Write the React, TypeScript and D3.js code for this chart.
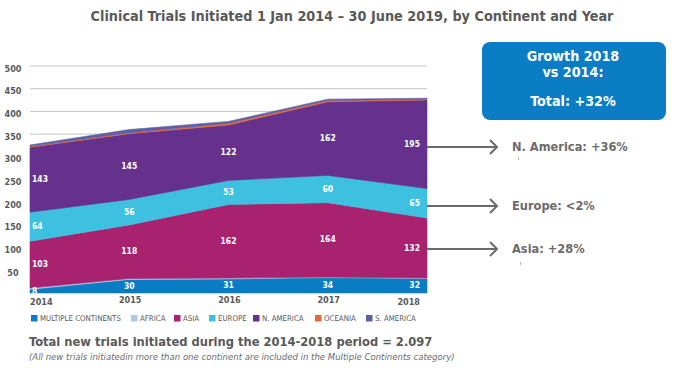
import React from "react";
import * as d3 from "d3";

const years = ["2014", "2015", "2016", "2017", "2018"];
const multipleContinents = [8, 30, 31, 34, 32];
const africa = [3, 2, 2, 1, 1];
const asia = [103, 118, 162, 164, 132];
const europe = [64, 56, 53, 60, 65];
const nAmerica = [143, 145, 122, 162, 195];
const oceania = [2, 2, 4, 3, 2];
const sAmerica = [3, 7, 4, 3, 2];

const seriesNames = ["MULTIPLE CONTINENTS", "AFRICA", "ASIA", "EUROPE", "N. AMERICA", "OCEANIA", "S. AMERICA"];
const seriesColors = ["#0a7cc3", "#b3c6e6", "#a8226f", "#3ec1e1", "#66318c", "#e06a3b", "#5b60a3"];
const labelledSeries = [0, 2, 3, 4];
const yTicks = [50, 100, 150, 200, 250, 300, 350, 400, 450, 500];

const callouts = ["N. America: +36%", "Europe: <2%", "Asia: +28%"];

const FONT = "'DejaVu Sans Condensed', 'DejaVu Sans', Verdana, sans-serif";

export default function App() {
  const W = 680, H = 368;
  const x = d3.scalePoint<string>().domain(years).range([30, 427]);
  const y = d3.scaleLinear().domain([0, 500]).range([293, 66]);

  const rows = years.map((yr, i) => ({
    year: yr,
    s0: multipleContinents[i],
    s1: africa[i],
    s2: asia[i],
    s3: europe[i],
    s4: nAmerica[i],
    s5: oceania[i],
    s6: sAmerica[i],
  }));
  const keys = ["s0", "s1", "s2", "s3", "s4", "s5", "s6"];
  const stacked = d3.stack<any>().keys(keys)(rows);
  const area = d3
    .area<any>()
    .x((d) => x(d.data.year) as number)
    .y0((d) => y(d[0]))
    .y1((d) => y(d[1]));

  const legendX = [31, 131, 174, 209, 253, 315, 366];

  return (
    <svg width={W} height={H} style={{ position: "absolute", left: 0, top: 0, background: "#fff" }}>
      <rect width={W} height={H} fill="#fff" />
      <text x={352} y={17} textAnchor="middle" dominantBaseline="middle" fontFamily={FONT} fontWeight="bold" fontSize={14.3} fill="#595959">
        Clinical Trials Initiated 1 Jan 2014 – 30 June 2019, by Continent and Year
      </text>

      {yTicks.map((t) => (
        <g key={t}>
          <line x1={30} x2={427} y1={y(t)} y2={y(t)} stroke="#c4c4c4" strokeWidth={1} />
          <text x={13} y={y(t) + 3} textAnchor="middle" dominantBaseline="middle" fontFamily={FONT} fontWeight="bold" fontSize={9} fill="#595959">
            {t}
          </text>
        </g>
      ))}

      {stacked.map((layer, i) => (
        <path key={i} d={area(layer) as string} fill={seriesColors[i]} stroke={seriesColors[i]} strokeWidth={0.6} />
      ))}

      {labelledSeries.map((si) =>
        stacked[si].map((d, i) => {
          const px = x(years[i]) as number;
          const anchor = i === 0 ? "start" : i === years.length - 1 ? "end" : "middle";
          const lx = i === 0 ? px + 2 : i === years.length - 1 ? px - 7 : px;
          return (
            <text key={si + "-" + i} x={lx} y={y((d[0] + d[1]) / 2)} textAnchor={anchor} dominantBaseline="middle" fontFamily={FONT} fontWeight="bold" fontSize={8.5} fill="#fff">
              {String(d[1] - d[0])}
            </text>
          );
        })
      )}

      {years.map((yr, i) => {
        const px = x(yr) as number;
        const anchor = i === 0 ? "start" : i === years.length - 1 ? "end" : "middle";
        const lx = i === 0 ? px : i === years.length - 1 ? px - 7 : px + 1;
        const ly = i === 0 || i === years.length - 1 ? 302 : 300;
        return (
          <text key={yr} x={lx} y={ly} textAnchor={anchor} dominantBaseline="middle" fontFamily={FONT} fontWeight="bold" fontSize={9} fill="#595959">
            {yr}
          </text>
        );
      })}

      {seriesNames.map((n, i) => (
        <g key={n}>
          <rect x={legendX[i]} y={315} width={6.5} height={6.5} fill={seriesColors[i]} />
          <text x={legendX[i] + 9} y={318.5} dominantBaseline="middle" fontFamily={FONT} fontSize={7.8} fill="#595959">
            {n}
          </text>
        </g>
      ))}

      <rect x={482} y={42} width={184} height={78} rx={8} ry={8} fill="#0b7dc4" />
      <text x={573} y={57} textAnchor="middle" dominantBaseline="middle" fontFamily={FONT} fontWeight="bold" fontSize={14.2} fill="#fff">Growth 2018</text>
      <text x={573} y={73} textAnchor="middle" dominantBaseline="middle" fontFamily={FONT} fontWeight="bold" fontSize={14.2} fill="#fff">vs 2014:</text>
      <text x={573} y={102} textAnchor="middle" dominantBaseline="middle" fontFamily={FONT} fontWeight="bold" fontSize={14.2} fill="#fff">Total: +32%</text>

      {callouts.map((c, i) => {
        const cy = [147, 206, 249][i];
        return (
          <g key={c}>
            <line x1={427} x2={497} y1={cy} y2={cy} stroke="#6b6b6b" strokeWidth={2} />
            <polyline points={`490,${cy - 7} 497,${cy} 490,${cy + 7}`} fill="none" stroke="#6b6b6b" strokeWidth={2} />
            <text x={512} y={cy} dominantBaseline="middle" fontFamily={FONT} fontWeight="bold" fontSize={12.7} fill="#6b6b6b">
              {c}
            </text>
          </g>
        );
      })}
      <line x1={518.5} x2={518.5} y1={157} y2={160} stroke="#9aa" strokeWidth={0.8} />
      <line x1={520.5} x2={520.5} y1={262} y2={265} stroke="#9aa" strokeWidth={0.8} />

      <text x={29} y={342} dominantBaseline="middle" fontFamily={FONT} fontWeight="bold" fontSize={12.8} fill="#595959">
        Total new trials initiated during the 2014-2018 period = 2.097
      </text>
      <text x={29} y={357} dominantBaseline="middle" fontFamily={FONT} fontStyle="italic" fontSize={9.5} fill="#6b6b6b">
        (All new trials initiatedin more than one continent are included in the Multiple Continents category)
      </text>
    </svg>
  );
}
